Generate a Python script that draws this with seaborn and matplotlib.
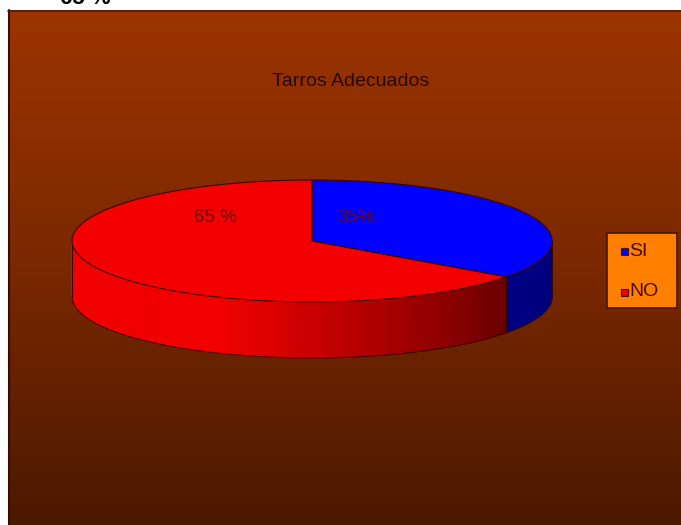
import numpy as np
import matplotlib
matplotlib.use("Agg")
import matplotlib.pyplot as plt
import seaborn as sns
from matplotlib.patches import Polygon, Rectangle
from matplotlib.colors import LinearSegmentedColormap

# Data
categories = ["SI", "NO"]
values = [35, 65]
slice_labels = ["35%", "65 %"]
title = "Tarros Adecuados"
stray_label = "65 %"

sns.set_theme(style="white")
plt.rcParams["font.family"] = ["Liberation Sans", "DejaVu Sans"]

top_colors = ["#0000FF", "#F50000"]
side_dark = ["#000078", "#680000"]
side_light = ["#00008E", "#F20000"]
# angular range (deg) over which each wall goes from dark to light
shade_span = [(0, 60), (36, 112)]
edge = "#3A0800"

fig = plt.figure(figsize=(6.81, 5.25), dpi=100)
ax = fig.add_axes([0, 0, 1, 1])
ax.set_xlim(0, 681)
ax.set_ylim(525, 0)
ax.axis("off")

# Background gradient of the chart area
grad = np.linspace(0, 1, 256).reshape(-1, 1)
bg = LinearSegmentedColormap.from_list("bg", ["#9C3400", "#7A2800", "#4A1900"])
ax.imshow(grad, cmap=bg, aspect="auto", extent=[8, 681, 525, 10], zorder=0)
ax.plot([8.5, 8.5], [10, 525], color="#3A0C00", lw=1.5, zorder=1)
ax.plot([8, 681], [10.5, 10.5], color="#5A1800", lw=1.2, zorder=1)

# Stray label cut off by the top edge
ax.text(85, 3.5, stray_label, ha="center", va="baseline", fontsize=16,
        fontweight="bold", color="black", zorder=1)

ax.text(351, 82, title, ha="center", va="center", fontsize=14,
        color="#2A0800", zorder=5)

# 3D pie geometry (screen coords, y down)
cx, cy, a, b, depth = 312, 241, 240, 61, 56
fracs = np.array(values, dtype=float) / sum(values)
starts = -90 + 360 * np.concatenate([[0], np.cumsum(fracs)[:-1]])
ends = starts + 360 * fracs


def pt(phi, dy=0.0):
    r = np.radians(phi)
    return cx + a * np.cos(r), cy + b * np.sin(r) + dy


# Side walls (only the front half, 0..180 deg, is visible)
for i in range(len(values)):
    s, e = starts[i], ends[i]
    cmap = LinearSegmentedColormap.from_list("side", [side_dark[i], side_light[i]])
    g0, g1 = shade_span[i]
    for off in (0, 360, -360):
        lo, hi = max(s + off, 0), min(e + off, 180)
        if hi <= lo:
            continue
        steps = np.linspace(lo, hi, max(int((hi - lo) * 2), 2))
        for p0, p1 in zip(steps[:-1], steps[1:]):
            t = np.clip((0.5 * (p0 + p1) - g0) / (g1 - g0), 0, 1)
            x0, y0 = pt(p0)
            x1, y1 = pt(p1)
            ax.add_patch(Polygon([(x0, y0), (x1, y1), (x1, y1 + depth), (x0, y0 + depth)],
                                 closed=True, facecolor=cmap(t), edgecolor=cmap(t),
                                 lw=0.6, zorder=2))
        ph = np.linspace(lo, hi, 100)
        xs, ys = pt(ph)
        ax.plot(xs, ys + depth, color=edge, lw=0.8, zorder=3)
        for p in (lo, hi):
            x, y = pt(p)
            ax.plot([x, x], [y, y + depth], color=edge, lw=0.8, zorder=3)

# Top faces
for i in range(len(values)):
    ph = np.linspace(starts[i], ends[i], 200)
    xs, ys = pt(ph)
    verts = [(cx, cy)] + list(zip(xs, ys))
    ax.add_patch(Polygon(verts, closed=True, facecolor=top_colors[i],
                         edgecolor=edge, lw=0.8, zorder=4))

# Slice labels
label_pos = [(356, 218), (215, 218)]
for (x, y), txt in zip(label_pos, slice_labels):
    ax.text(x, y, txt, ha="center", va="center", fontsize=13.5,
            color="#6A0808", zorder=5)

# Legend
ax.add_patch(Rectangle((607, 233), 70, 75, facecolor="#FF8000",
                       edgecolor="#4A1400", lw=1.2, zorder=5))
for i, (cat, y) in enumerate(zip(categories, [251, 292])):
    ax.add_patch(Rectangle((621, y - 3.5), 7, 7, facecolor=top_colors[i],
                           edgecolor="#4A1400", lw=0.8, zorder=6))
    ax.text(629, y, cat, ha="left", va="center", fontsize=14,
            color="#4A0A00", zorder=6)

fig.savefig("out.png", dpi=100)
